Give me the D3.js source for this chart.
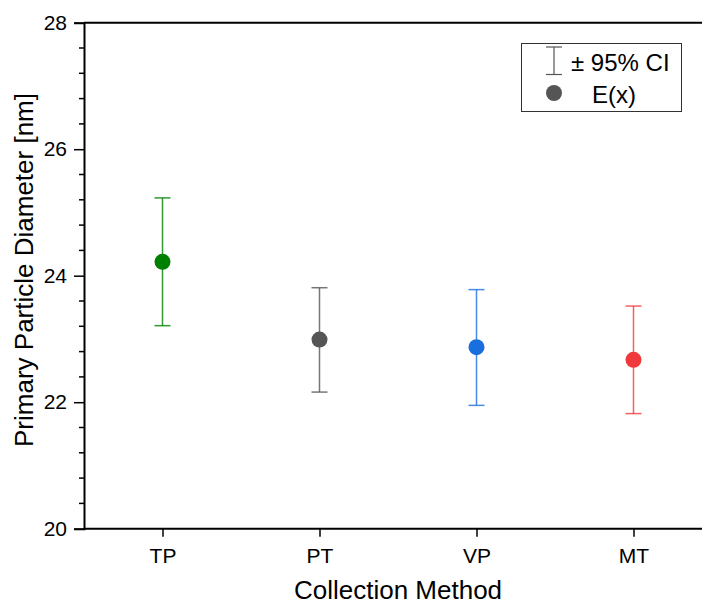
<!DOCTYPE html>
<html><head><meta charset="utf-8">
<script src="https://cdn.jsdelivr.net/npm/d3@7"></script>
<style>body{margin:0;background:#fff}svg{display:block}text{font-family:"Liberation Sans",Arial,sans-serif}</style>
</head><body>
<script>
const categories = ["TP", "PT", "VP", "MT"];
const means = [24.22, 22.99, 22.87, 22.67];
const upper = [25.23, 23.81, 23.78, 23.52];
const lower = [23.21, 22.16, 21.95, 21.82];
const colors = ["#008000", "#555555", "#1a6fdf", "#f0393c"];
const yTicks = [20, 22, 24, 26, 28];

const W = 702, H = 605;
const svg = d3.select("body").append("svg").attr("width", W).attr("height", H);
const pLeft = 84, pTop = 22.7, pBottom = 528.7;
const x = d3.scaleLinear().domain([0.5, 4.5]).range([pLeft, pLeft + 4 * 157]);
const y = d3.scaleLinear().domain([20, 28]).range([pBottom, pTop]);
const FONT = '"Liberation Sans",Arial,sans-serif';

// frame top
svg.append("line").attr("x1", pLeft).attr("x2", W).attr("y1", pTop).attr("y2", pTop).attr("stroke", "#000").attr("stroke-width", 2);

// y axis
const yAxis = d3.axisLeft(y).tickValues(yTicks).tickSize(10).tickPadding(7).tickFormat(d3.format("d"));
const gy = svg.append("g").attr("transform", `translate(${pLeft},0)`).call(yAxis);
const minor = d3.range(20, 28.01, 0.4).filter(v => Math.abs(v - Math.round(v / 2) * 2) > 0.01);
gy.selectAll(".minor").data(minor).enter().append("line").attr("class", "minor")
  .attr("x1", 0).attr("x2", -5).attr("y1", d => y(d)).attr("y2", d => y(d)).attr("stroke", "#000").attr("stroke-width", 1.5);
gy.select(".domain").attr("stroke-width", 2);
gy.selectAll(".tick line").attr("stroke-width", 1.5);
gy.selectAll(".tick text").attr("font-size", 21).attr("fill", "#000").attr("font-family", FONT);

// x axis
const xAxis = d3.axisBottom(x).tickValues([1, 2, 3, 4]).tickFormat((d, i) => categories[i]).tickSize(8).tickPadding(11);
const gx = svg.append("g").attr("transform", `translate(0,${pBottom})`).call(xAxis);
gx.select(".domain").attr("d", `M${pLeft},0H${W}`).attr("stroke-width", 2);
gx.selectAll(".tick line").attr("stroke-width", 1.5);
gx.selectAll(".tick text").attr("font-size", 21).attr("fill", "#000").attr("font-family", FONT);

// error bars and points
const data = categories.map((c, i) => ({ c, i, m: means[i], u: upper[i], l: lower[i], col: colors[i] }));
const g = svg.append("g");
data.forEach(d => {
  const cx = x(d.i + 1);
  const eg = g.append("g").attr("stroke", d.col).attr("stroke-width", 1.5).attr("stroke-opacity", 0.8);
  eg.append("line").attr("x1", cx).attr("x2", cx).attr("y1", y(d.u)).attr("y2", y(d.l));
  eg.append("line").attr("x1", cx - 8).attr("x2", cx + 8).attr("y1", y(d.u)).attr("y2", y(d.u));
  eg.append("line").attr("x1", cx - 8).attr("x2", cx + 8).attr("y1", y(d.l)).attr("y2", y(d.l));
  g.append("circle").attr("cx", cx).attr("cy", y(d.m)).attr("r", 8).attr("fill", d.col);
});

// axis titles
svg.append("text").attr("x", 398).attr("y", 599).attr("text-anchor", "middle").attr("font-size", 26).text("Collection Method");
svg.append("text").attr("transform", `translate(33,270) rotate(-90)`).attr("text-anchor", "middle").attr("font-size", 26).text("Primary Particle Diameter [nm]");

// legend
const lg = svg.append("g");
lg.append("rect").attr("x", 521.5).attr("y", 43.5).attr("width", 160).attr("height", 68).attr("fill", "#fff").attr("stroke", "#333").attr("stroke-width", 1);
const lx = 554;
lg.append("line").attr("x1", lx).attr("x2", lx).attr("y1", 47).attr("y2", 74.5).attr("stroke", "#555").attr("stroke-width", 1.2);
lg.append("line").attr("x1", lx - 8).attr("x2", lx + 8).attr("y1", 47).attr("y2", 47).attr("stroke", "#555").attr("stroke-width", 1.2);
lg.append("line").attr("x1", lx - 8).attr("x2", lx + 8).attr("y1", 74.5).attr("y2", 74.5).attr("stroke", "#555").attr("stroke-width", 1.2);
lg.append("circle").attr("cx", lx).attr("cy", 93).attr("r", 8).attr("fill", "#555");
lg.append("text").attr("x", 571).attr("y", 71).attr("font-size", 24).text("± 95% CI");
lg.append("text").attr("x", 592).attr("y", 103).attr("font-size", 24).text("E(x)");
</script>
</body></html>
